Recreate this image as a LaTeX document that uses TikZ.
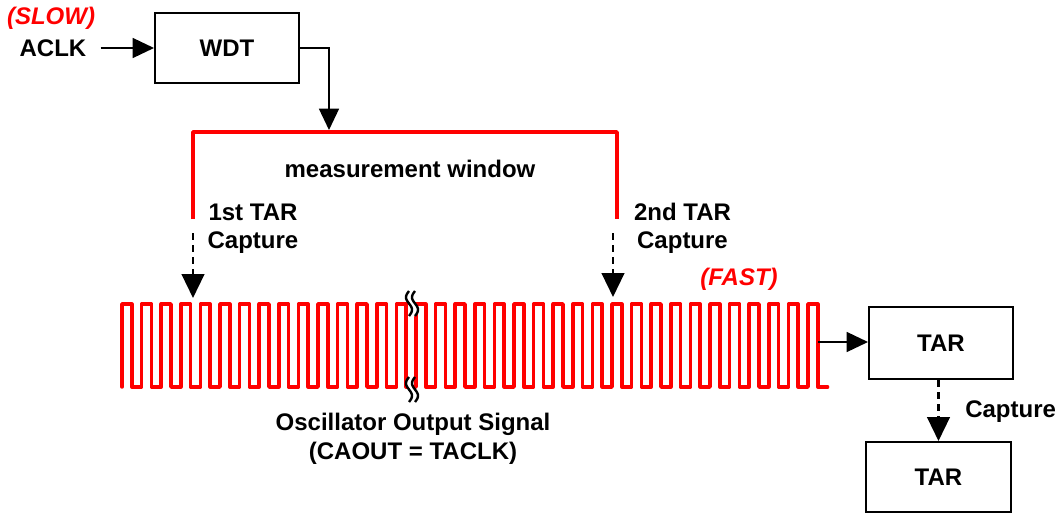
\documentclass[tikz,border=0pt]{standalone}
\usepackage{fontspec}
\setmainfont{Liberation Sans}
\usetikzlibrary{arrows.meta}
\begin{document}
\begin{tikzpicture}[x=0.75pt,y=-0.75pt,
  txt/.style={font=\fontsize{18}{21}\selectfont\bfseries, inner sep=0pt, text=black},
  rtxt/.style={font=\fontsize{18}{21}\selectfont\bfseries\itshape, inner sep=0pt, text=red},
  blk/.style={draw=black, line width=1.5pt, fill=white, inner sep=0pt,
              font=\fontsize{18}{21}\selectfont\bfseries},
  conn/.style={draw=black, line width=1.1pt, -{Triangle[length=16pt,width=15pt]}},
  dconn/.style={draw=black, line width=1.8pt, dash pattern=on 5.5pt off 3.5pt,
                -{Triangle[length=18pt,width=17pt]}},
  redline/.style={draw=red, line width=2.8pt, line join=round},
  wave/.style={draw=red, line width=2.6pt, line join=round, line cap=round},
  brk/.style={draw=black, line width=1.8pt}
]
\useasboundingbox (0,0) rectangle (1058,514);

% texts
\node[rtxt, anchor=base] (slow) at (51,25) {(SLOW)};
\node[txt] (aclk) at (53,48) {ACLK};
\node[txt, anchor=base] (mw) at (410,177) {measurement window};
\node[txt, anchor=base] (c1a) at (253,220) {1st TAR};
\node[txt, anchor=base] (c1b) at (253,248) {Capture};
\node[txt, anchor=base] (c2a) at (682.5,220) {2nd TAR};
\node[txt, anchor=base] (c2b) at (682.5,248) {Capture};
\node[rtxt, anchor=base] (fast) at (739,285) {(FAST)};
\node[txt, anchor=base] (osc1) at (413,430) {Oscillator Output Signal};
\node[txt, anchor=base] (osc2) at (413,459) {(CAOUT = TACLK)};
\node[txt, anchor=base west] (cap3) at (965,417) {Capture};

% boxes
\node[blk, minimum width=108pt, minimum height=52.5pt] (wdt) at (227,48) {WDT};
\node[blk, minimum width=108pt, minimum height=54pt] (tar1) at (941,343) {TAR};
\node[blk, minimum width=108.75pt, minimum height=52.5pt] (tar2) at (938.5,477) {TAR};

% measurement window bracket
\coordinate (blb) at (193,219);
\coordinate (brb) at (617,219);
\coordinate (brtop) at (329,130);
\draw[redline] (blb) -- (193,132) -- (617,132) -- (brb);

% connectors
\draw[conn] ([xshift=10.5pt]aclk.east) -- (wdt.west);
\draw[conn] (wdt.east) -| (brtop);

\coordinate (d1s) at (193,233);
\coordinate (d1e) at (193,298);
\coordinate (d2s) at (613,233);
\coordinate (d2e) at (613,297);
\draw[dconn] (d1s) -- (d1e);
\draw[dconn] (d2s) -- (d2e);

% oscillator waveform
\draw[wave] (122,387) \foreach \k in {0,...,35} { -- ++(0,-83) -- ++(9.8,0) -- ++(0,83) -- ++(9.8,0) };

% break marks
\foreach \yo in {291,377} {
  \fill[white] plot[domain=0:1, samples=25] ({409-3*sin(360*\x)},{\yo+25*\x})
     -- plot[domain=1:0, samples=25] ({415-3*sin(360*\x)},{\yo+25*\x}) -- cycle;
  \draw[brk] plot[domain=0:1, samples=25, smooth] ({409-3*sin(360*\x)},{\yo+25*\x});
  \draw[brk] plot[domain=0:1, samples=25, smooth] ({415-3*sin(360*\x)},{\yo+25*\x});
}

\coordinate (wout) at (818,342);
\draw[conn] (wout) -- (tar1.west |- wout);
\draw[dconn] (tar1.south -| tar2.north) -- (tar2.north);
\end{tikzpicture}
\end{document}
